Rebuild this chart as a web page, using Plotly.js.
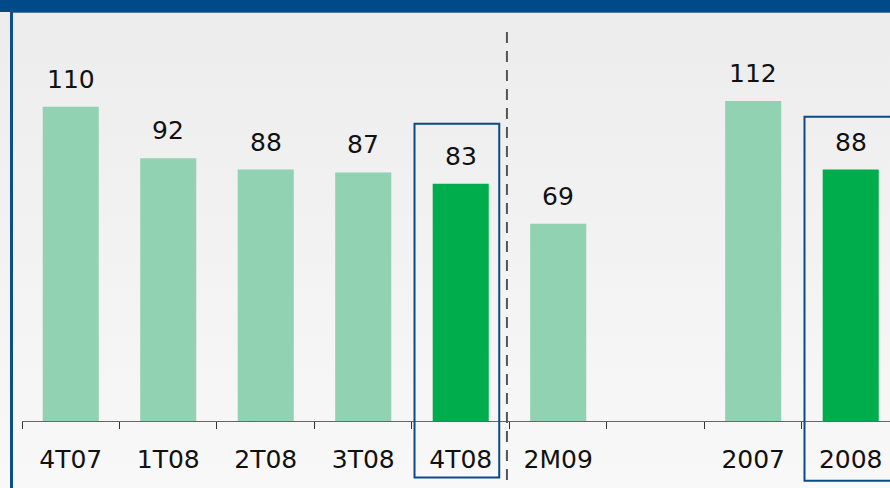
<!DOCTYPE html>
<html>
<head>
<meta charset="utf-8">
<script src="https://cdn.plot.ly/plotly-3.0.1.min.js"></script>
<style>html,body{margin:0;padding:0;background:#f1f1f1;}#chart{width:890px;height:488px;}</style>
</head>
<body>
<div id="chart"></div>
<script>
// Data
const categories = ["4T07", "1T08", "2T08", "3T08", "4T08", "2M09", " ", "2007", "2008"];
const values = [110, 92, 88, 87, 83, 69, null, 112, 88];
const highlighted = ["4T08", "2008"];

const lightGreen = "#90d2b2";
const darkGreen = "#00ad4c";
const frameBlue = "#0b4a87";

const xr = [-0.5, 8.403];
const yr = [0, 140];
const px = i => (i - xr[0]) / (xr[1] - xr[0]);
const py = v => (v - yr[0]) / (yr[1] - yr[0]);

const colors = categories.map(c => highlighted.includes(c) ? darkGreen : lightGreen);

const trace = {
  type: "bar",
  x: categories,
  y: values,
  marker: {color: colors},
  width: 0.575,
  hoverinfo: "none"
};

const annotations = categories.map((c, i) => values[i] == null ? null : ({
  x: i, y: values[i], xref: "x", yref: "y",
  text: String(values[i]), showarrow: false,
  yanchor: "bottom", yshift: 11,
  font: {family: "DejaVu Sans, Verdana, sans-serif", size: 25, color: "#111"}
})).filter(a => a);

const gradSvg = '<svg xmlns="http://www.w3.org/2000/svg" width="10" height="100" preserveAspectRatio="none"><defs><linearGradient id="g" x1="0" y1="0" x2="0" y2="1"><stop offset="0" stop-color="#ececec"/><stop offset="1" stop-color="#f9f9f9"/></linearGradient></defs><rect width="10" height="100" fill="url(#g)"/></svg>';

const idx4T08 = categories.indexOf("4T08");
const idx2008 = categories.indexOf("2008");

const shapes = [
  // top banner
  {type: "rect", xref: "paper", yref: "paper", x0: -0.05, x1: 1.05, y0: 1.0225, y1: 1.08,
   fillcolor: "#004a89", line: {width: 0}, layer: "above"},
  {type: "line", xref: "paper", yref: "paper", x0: -0.012, x1: 1.05, y0: 1.0215, y1: 1.0215,
   line: {color: "#3b6fa3", width: 1}},
  // left border
  {type: "line", xref: "paper", yref: "paper", x0: -0.0121, x1: -0.0121, y0: 1.03, y1: -0.2,
   line: {color: "#0b4f8f", width: 3}},
  // dashed separator
  {type: "line", xref: "paper", yref: "paper", x0: px(idx4T08 + 0.474), x1: px(idx4T08 + 0.474), y0: 0.9725, y1: -0.2,
   line: {color: "#555", width: 2, dash: "11px,8px"}},
  // highlight boxes
  {type: "rect", xref: "paper", yref: "paper", x0: px(idx4T08 - 0.474), x1: px(idx4T08 + 0.395), y0: py(-19.8), y1: py(104),
   line: {color: frameBlue, width: 2}, fillcolor: "rgba(0,0,0,0)"},
  {type: "rect", xref: "paper", yref: "paper", x0: px(idx2008 - 0.474), x1: px(idx2008 + 0.7), y0: py(-20.9), y1: py(106.5),
   line: {color: frameBlue, width: 2}, fillcolor: "rgba(0,0,0,0)"}
];

const layout = {
  width: 890, height: 488,
  margin: {l: 22, r: 0, t: 21, b: 67, pad: 0},
  paper_bgcolor: "#f1f1f1",
  plot_bgcolor: "rgba(0,0,0,0)",
  showlegend: false,
  font: {family: "DejaVu Sans, Verdana, sans-serif", size: 25, color: "#111"},
  xaxis: {
    type: "category", range: xr, fixedrange: true,
    showline: true, linecolor: "#666", linewidth: 1,
    ticks: "outside", ticklen: 7, tickcolor: "#333", tickwidth: 1,
    tickson: "boundaries", ticklabelstandoff: 16,
    showgrid: false, zeroline: false,
    tickfont: {family: "DejaVu Sans, Verdana, sans-serif", size: 25, color: "#111"}
  },
  yaxis: {range: yr, visible: false, showgrid: false, zeroline: false, fixedrange: true},
  images: [{source: "data:image/svg+xml;base64," + btoa(gradSvg), xref: "paper", yref: "paper",
    x: -0.05, y: 1.06, sizex: 1.1, sizey: 1.3, sizing: "stretch", xanchor: "left", yanchor: "top", layer: "below"}],
  shapes: shapes,
  annotations: annotations
};

Plotly.newPlot("chart", [trace], layout, {displayModeBar: false, staticPlot: true});
</script>
</body>
</html>
